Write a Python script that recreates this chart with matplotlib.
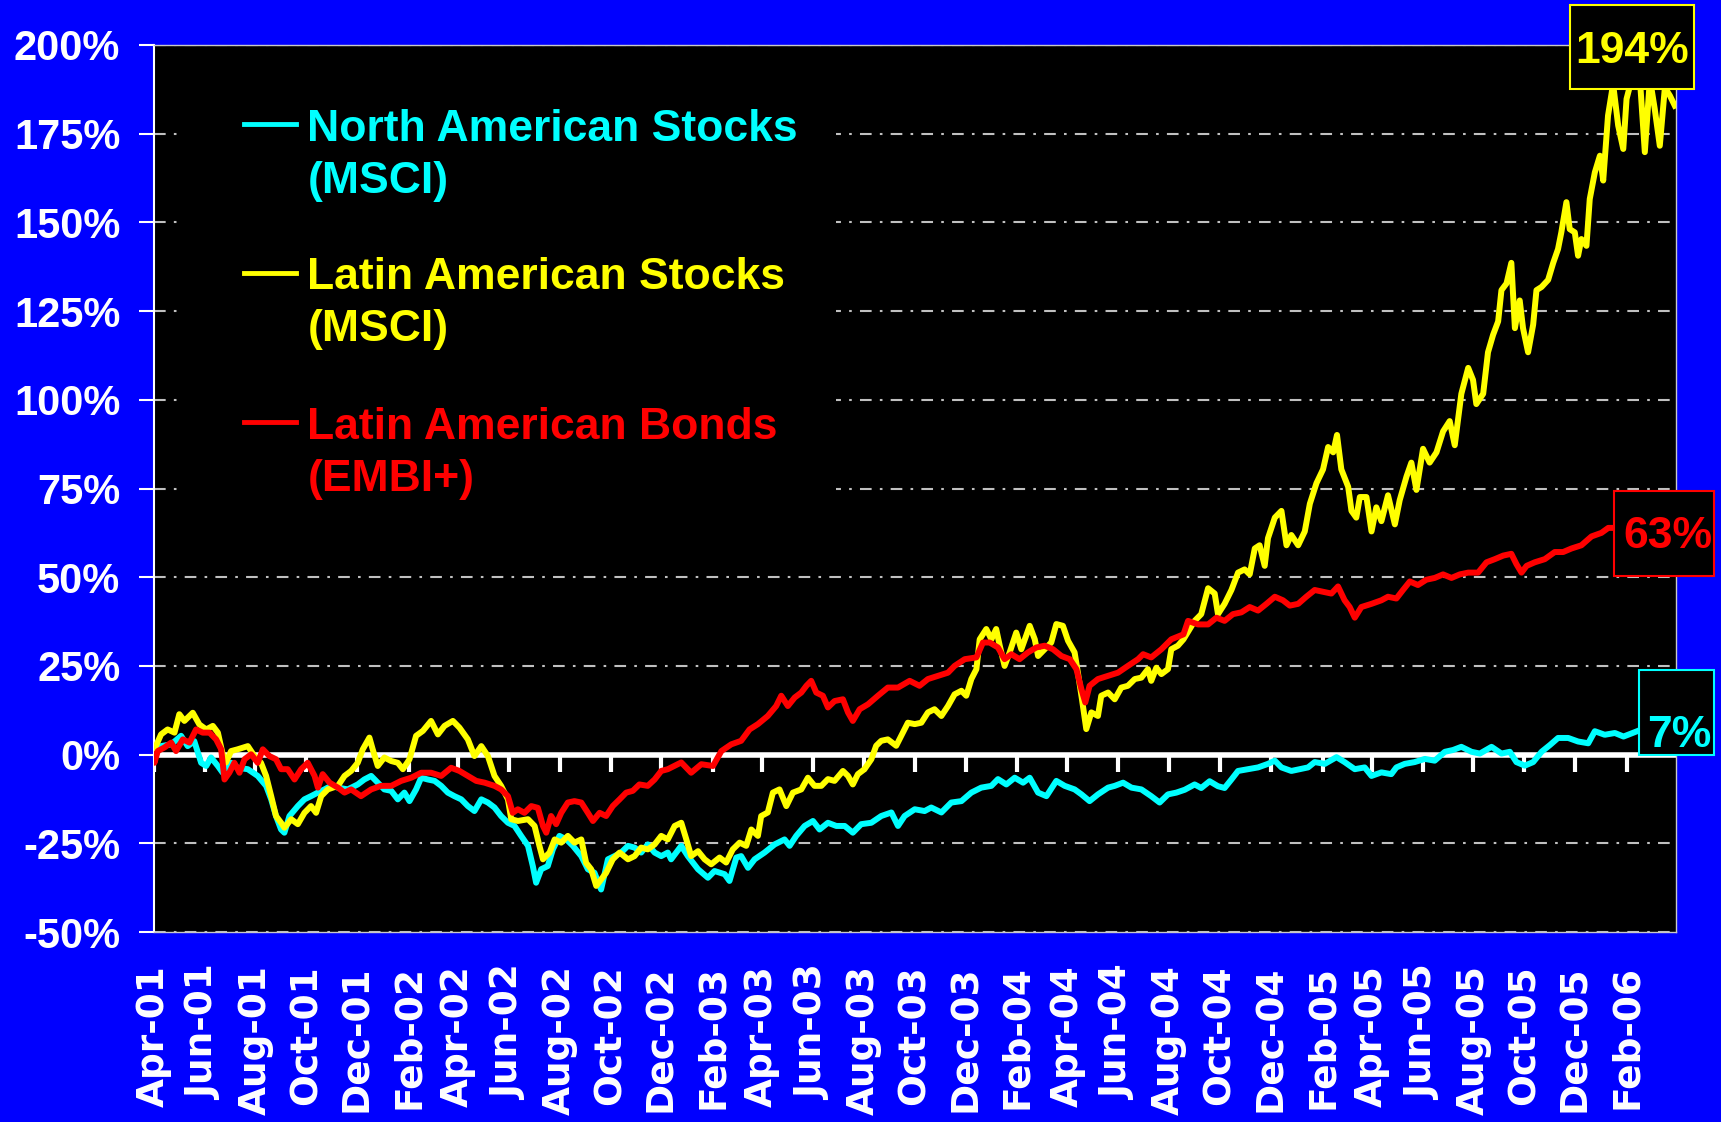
import numpy as np
import pandas as pd
import matplotlib
matplotlib.use('Agg')
import matplotlib.pyplot as plt
from matplotlib.patches import Rectangle
from matplotlib.lines import Line2D

plt.rcParams['font.family'] = ['Liberation Sans', 'DejaVu Sans']
plt.rcParams['font.weight'] = 'bold'
plt.rcParams['lines.scale_dashes'] = False

#%% data: (months after 1-Apr-2001, cumulative return in %)

start = pd.Timestamp('2001-04-01')

na_stocks = [
    (0.00, 0.0), (0.03, 0.5), (0.29, 2.4), (0.69, 2.9), (1.08, 5.3), (1.34, 2.4), (1.60, 3.8),
    (1.87, -2.3), (2.07, -3.2), (2.26, -0.8), (2.53, -3.2), (2.72, -5.1), (3.05, -2.3), (3.31, -3.7),
    (3.71, -4.1), (4.10, -6.0), (4.43, -8.8), (4.63, -12.6), (4.82, -17.3), (5.02, -21.1), (5.15, -22.0),
    (5.35, -17.3), (5.68, -14.5), (5.94, -12.6), (6.20, -11.7), (6.47, -10.7), (6.73, -9.8), (6.99, -8.8),
    (7.26, -9.3), (7.65, -9.8), (8.04, -8.4), (8.30, -7.0), (8.57, -6.0), (8.83, -7.9), (9.09, -9.8),
    (9.36, -10.2), (9.62, -12.6), (9.88, -10.7), (10.08, -13.1), (10.34, -9.8), (10.54, -6.5), (10.80, -7.0),
    (11.07, -7.4), (11.33, -8.8), (11.59, -10.7), (11.85, -11.7), (12.12, -12.6), (12.38, -14.5), (12.64, -15.9),
    (12.91, -12.6), (13.17, -13.5), (13.43, -14.9), (13.69, -17.3), (13.96, -19.2), (14.22, -20.1), (14.48, -22.9),
    (14.75, -25.7), (14.94, -31.4), (15.07, -36.1), (15.27, -32.3), (15.53, -31.4), (15.73, -26.7), (15.99, -22.9),
    (16.26, -23.9), (16.52, -25.7), (16.85, -28.6), (17.11, -32.3), (17.37, -33.3), (17.63, -38.0), (17.90, -29.5),
    (18.16, -28.6), (18.42, -27.6), (18.69, -25.7), (18.95, -26.2), (19.21, -27.6), (19.47, -25.3), (19.74, -27.6),
    (20.00, -28.6), (20.26, -27.6),
    (20.39, -29.5), (20.79, -25.7), (21.05, -28.6), (21.45, -32.3), (21.84, -34.7), (22.10, -32.8), (22.50, -33.7),
    (22.69, -35.6), (22.96, -29.0), (23.15, -28.6), (23.42, -31.9), (23.68, -29.5), (24.07, -27.6), (24.47, -25.3),
    (24.86, -23.9), (25.06, -25.7), (25.32, -22.9), (25.65, -20.1), (25.98, -18.7), (26.24, -21.1), (26.57, -19.2),
    (26.90, -20.1), (27.23, -20.1), (27.55, -22.0), (27.88, -19.6), (28.28, -19.2), (28.67, -17.3), (29.07, -16.3),
    (29.33, -20.1), (29.59, -17.3), (29.99, -15.4), (30.38, -15.9), (30.64, -14.9), (31.04, -16.3), (31.43, -13.5),
    (31.83, -13.1), (32.22, -10.7), (32.61, -9.3), (33.01, -8.8), (33.27, -6.9), (33.60, -8.4), (33.93, -6.5),
    (34.26, -7.9), (34.52, -6.5), (34.85, -10.7), (35.18, -11.7), (35.57, -7.4), (35.90, -8.8), (36.29, -9.8),
    (36.56, -11.2), (36.88, -13.1), (37.21, -11.2), (37.61, -9.3), (37.87, -8.8), (38.20, -7.9), (38.53, -9.3),
    (38.92, -9.8), (39.31, -11.7), (39.64, -13.5), (39.97, -11.2), (40.30, -10.7), (40.63, -9.9),
    (41.02, -8.4), (41.28, -9.4), (41.61, -7.5), (41.94, -8.9), (42.20, -9.4), (42.47, -7.0), (42.73, -4.6),
    (43.12, -4.1), (43.52, -3.6), (43.91, -2.6), (44.18, -1.7), (44.44, -3.6), (44.83, -4.6), (45.16, -4.1),
    (45.49, -3.6), (45.75, -2.1), (46.15, -2.6), (46.61, -0.7), (46.93, -2.1), (47.33, -4.1), (47.72, -3.6),
    (47.99, -6.0), (48.38, -5.0), (48.77, -5.5), (48.97, -3.6), (49.30, -2.6), (49.69, -2.1), (50.09, -1.2),
    (50.48, -1.7), (50.88, 0.8), (51.20, 1.3), (51.53, 2.2), (51.93, 0.8), (52.26, 0.3), (52.72, 2.2),
    (53.11, 0.3), (53.44, 0.8), (53.70, -2.1), (54.03, -3.1), (54.36, -2.1), (54.69, 0.8), (55.02, 2.7),
    (55.34, 4.7), (55.74, 4.7), (56.13, 3.7), (56.53, 3.2), (56.79, 6.6), (57.18, 5.6), (57.58, 6.1),
    (57.92, 5.1), (58.60, 7.0), (59.20, 6.8), (59.94, 7.0),
]

la_stocks = [
    (0.00, 0.0), (0.03, 1.5), (0.29, 5.7), (0.55, 7.1), (0.82, 6.2), (1.01, 11.4), (1.21, 9.5),
    (1.54, 11.8), (1.80, 8.5), (2.07, 7.1), (2.33, 8.1), (2.53, 6.2), (2.72, 0.1), (2.85, -2.2),
    (3.05, 1.0), (3.31, 1.5), (3.71, 2.4), (3.97, -0.4), (4.23, -2.3), (4.43, -6.0), (4.63, -11.7),
    (4.82, -17.3), (5.02, -19.2), (5.15, -20.6), (5.42, -18.2), (5.68, -19.6), (5.94, -16.4), (6.20, -14.5),
    (6.40, -16.4), (6.60, -11.7), (6.86, -9.8), (7.26, -8.8), (7.52, -6.0), (7.78, -4.6), (8.04, -2.3),
    (8.24, 1.5), (8.50, 4.8), (8.63, 1.5), (8.83, -3.2), (9.09, -0.8), (9.36, -1.8), (9.62, -2.3),
    (9.82, -4.1), (10.08, -1.3), (10.34, 5.3), (10.61, 6.7), (10.93, 9.5), (11.20, 5.7), (11.46, 8.1),
    (11.79, 9.5), (12.05, 7.6), (12.38, 4.3), (12.64, -0.4), (12.91, 2.4), (13.17, -0.4), (13.43, -6.0),
    (13.69, -8.8), (13.96, -12.6), (14.09, -18.2), (14.35, -18.7), (14.75, -18.2), (15.01, -20.1), (15.20, -25.7),
    (15.34, -29.5), (15.60, -27.6), (15.80, -23.9), (16.06, -24.8), (16.32, -22.9), (16.58, -24.8), (16.85, -23.9),
    (17.04, -30.5), (17.24, -32.3), (17.44, -37.0), (17.63, -35.2), (17.83, -33.3), (18.09, -29.5), (18.36, -27.6),
    (18.69, -29.5), (18.95, -28.6), (19.21, -26.2), (19.47, -26.7), (19.74, -25.3), (20.00, -22.9), (20.26, -23.9),
    (20.53, -20.1), (20.79, -19.2), (20.99, -23.9), (21.18, -28.6), (21.45, -27.2), (21.71, -29.5), (21.97, -30.9),
    (22.30, -29.0), (22.56, -30.4), (22.82, -26.7), (23.09, -24.8), (23.35, -25.7), (23.55, -21.1), (23.81, -22.9),
    (23.94, -17.3), (24.20, -16.3), (24.40, -10.7), (24.66, -9.8), (24.93, -14.5), (25.19, -10.7), (25.52, -9.8),
    (25.78, -6.5), (26.04, -8.8), (26.31, -8.8), (26.57, -6.9), (26.83, -7.4), (27.16, -4.6), (27.36, -6.0),
    (27.55, -8.4), (27.75, -5.5), (28.01, -4.1), (28.28, -1.3), (28.47, 2.5), (28.67, 3.9), (28.93, 4.3),
    (29.26, 2.5), (29.46, 5.3), (29.72, 9.0), (29.99, 8.6), (30.25, 9.0), (30.51, 11.9), (30.77, 12.8),
    (31.04, 10.9), (31.30, 13.7), (31.56, 17.0), (31.83, 18.0), (32.02, 16.6), (32.22, 21.3), (32.42, 24.1),
    (32.55, 32.5), (32.81, 35.4), (33.01, 32.5), (33.20, 35.4), (33.34, 30.7), (33.53, 25.0), (33.73, 28.8),
    (33.99, 34.4), (34.19, 29.7), (34.52, 36.3), (34.72, 32.5), (34.85, 27.8), (35.11, 29.7), (35.37, 31.6),
    (35.57, 36.8), (35.83, 36.3), (36.03, 32.1), (36.29, 28.8), (36.42, 23.1), (36.58, 15.6), (36.75, 7.2),
    (36.95, 11.9), (37.21, 10.9), (37.34, 16.6), (37.61, 17.5), (37.87, 15.6), (38.13, 18.9), (38.39, 19.4),
    (38.66, 21.3), (38.92, 21.7), (39.18, 24.1), (39.31, 20.8), (39.51, 24.5), (39.71, 22.7), (39.97, 24.1),
    (40.10, 29.7), (40.36, 30.7), (40.58, 32.5),
    (41.02, 37.7), (41.28, 39.6), (41.55, 46.9), (41.81, 45.4), (41.94, 39.6), (42.20, 42.5), (42.47, 46.4),
    (42.73, 51.3), (42.99, 52.2), (43.19, 50.8), (43.39, 58.1), (43.58, 59.0), (43.78, 53.2), (43.91, 61.0),
    (44.18, 66.8), (44.44, 68.7), (44.64, 59.0), (44.83, 61.9), (45.10, 59.0), (45.36, 62.9), (45.56, 70.7),
    (45.82, 76.5), (46.08, 80.4), (46.28, 86.7), (46.48, 85.2), (46.63, 90.1), (46.80, 80.4), (47.07, 75.5),
    (47.20, 68.7), (47.39, 66.8), (47.53, 72.6), (47.79, 72.6), (47.99, 62.9), (48.18, 69.7), (48.38, 65.8),
    (48.64, 73.1), (48.91, 64.9), (49.10, 71.7), (49.37, 78.4), (49.56, 82.3), (49.76, 74.6), (50.02, 86.2),
    (50.28, 82.3), (50.55, 85.2), (50.81, 91.1), (51.07, 94.0), (51.27, 87.2), (51.53, 101.7), (51.80, 109.0),
    (51.99, 105.6), (52.12, 98.8), (52.39, 101.7), (52.58, 113.4), (52.78, 118.3), (52.98, 122.1), (53.11, 130.9),
    (53.31, 132.8), (53.50, 138.6), (53.64, 120.2), (53.83, 128.0), (53.96, 120.2), (54.16, 113.4), (54.36, 121.2),
    (54.49, 130.9), (54.69, 131.8), (54.95, 133.8), (55.15, 138.6), (55.34, 142.5),
    (55.47, 147.2), (55.67, 155.7), (55.80, 148.1), (56.00, 147.2), (56.13, 140.6), (56.26, 145.3), (56.46, 143.4),
    (56.59, 156.6), (56.79, 164.1), (56.99, 168.8), (57.12, 161.8), (57.31, 180.1), (57.51, 189.0), (57.71, 177.3),
    (57.91, 170.7), (58.04, 184.8), (58.23, 190.0), (58.56, 191.0), (58.76, 169.8), (58.96, 190.5), (59.15, 182.0),
    (59.35, 171.6), (59.55, 188.0), (59.75, 185.7), (59.94, 182.9),
]

la_bonds = [
    (0.00, 0.0), (0.03, -2.3), (0.16, 1.0), (0.42, 2.0), (0.69, 3.4), (0.88, 1.0), (1.15, 4.3),
    (1.41, 3.4), (1.67, 7.1), (1.93, 6.2), (2.20, 6.2), (2.46, 4.3), (2.66, 1.5), (2.79, -7.0),
    (2.98, -5.1), (3.18, -2.3), (3.38, -5.1), (3.58, -1.3), (3.84, 0.1), (4.10, -2.3), (4.30, 1.5),
    (4.56, -0.4), (4.82, -1.3), (5.02, -4.1), (5.28, -4.1), (5.55, -7.0), (5.81, -4.1), (6.07, -2.3),
    (6.34, -6.0), (6.47, -9.3), (6.66, -5.5), (6.93, -7.9), (7.26, -9.3), (7.52, -10.7), (7.78, -9.8),
    (8.17, -11.7), (8.57, -9.8), (8.96, -8.8), (9.36, -8.8), (9.75, -7.4), (10.15, -6.5), (10.54, -5.1),
    (10.93, -5.1), (11.33, -6.0), (11.72, -3.7), (12.05, -4.6), (12.38, -6.0), (12.71, -7.4), (13.04, -7.9),
    (13.43, -8.8), (13.69, -9.8), (13.96, -11.7), (14.15, -16.4), (14.35, -15.4), (14.61, -16.4), (14.88, -14.5),
    (15.14, -15.0), (15.34, -20.1), (15.47, -22.0), (15.66, -17.3), (15.86, -19.6), (16.06, -16.4), (16.32, -13.5),
    (16.58, -13.1), (16.85, -13.5), (17.11, -16.4), (17.31, -18.7), (17.57, -16.4), (17.83, -17.3), (18.09, -14.5),
    (18.36, -12.6), (18.62, -10.7), (18.88, -10.2), (19.14, -8.4), (19.47, -8.8), (19.74, -7.0), (20.00, -4.6),
    (20.26, -4.1),
    (20.79, -2.2), (21.18, -5.1), (21.58, -2.7), (22.04, -3.2), (22.37, 1.0), (22.76, 2.9), (23.15, 3.9),
    (23.48, 7.1), (23.81, 8.6), (24.20, 10.9), (24.53, 13.7), (24.73, 16.6), (24.99, 13.7), (25.26, 16.1),
    (25.52, 17.5), (25.72, 19.4), (25.91, 20.8), (26.11, 17.5), (26.37, 16.6), (26.57, 13.3), (26.83, 15.1),
    (27.16, 15.6), (27.36, 11.9), (27.55, 9.5), (27.82, 12.8), (28.15, 14.2), (28.54, 16.6), (28.93, 18.9),
    (29.33, 18.9), (29.79, 20.8), (30.18, 19.4), (30.51, 21.3), (30.91, 22.2), (31.30, 23.1), (31.56, 25.0),
    (31.96, 26.9), (32.42, 27.4), (32.68, 31.6), (32.94, 31.6), (33.27, 30.2), (33.53, 26.9), (33.80, 28.3),
    (34.12, 26.9), (34.45, 28.8), (34.78, 30.2), (35.11, 30.7), (35.44, 29.7), (35.77, 27.8), (36.10, 26.9),
    (36.36, 24.1), (36.56, 18.4), (36.71, 14.7), (36.88, 19.4), (37.21, 21.3), (37.61, 22.2), (38.00, 23.1),
    (38.39, 25.0), (38.79, 26.9), (38.99, 28.3), (39.31, 27.4), (39.71, 29.7), (40.10, 32.5), (40.58, 33.9),
    (40.76, 37.7), (41.15, 36.7), (41.55, 36.7), (41.88, 38.6), (42.20, 37.7), (42.53, 39.6), (42.86, 40.1),
    (43.19, 41.6), (43.52, 40.6), (43.85, 42.5), (44.18, 44.5), (44.50, 43.5), (44.77, 42.0), (45.10, 42.5),
    (45.42, 44.5), (45.75, 46.4), (46.08, 45.9), (46.41, 45.4), (46.67, 47.4), (46.93, 43.5), (47.13, 41.6),
    (47.33, 38.6), (47.59, 41.6), (47.99, 42.5), (48.38, 43.5), (48.64, 44.5), (48.97, 44.0), (49.23, 46.4),
    (49.50, 48.8), (49.82, 47.8), (50.15, 49.3), (50.48, 49.8), (50.81, 50.8), (51.14, 49.8), (51.47, 50.8),
    (51.80, 51.3), (52.19, 51.3), (52.52, 54.2), (52.85, 55.1), (53.18, 56.1), (53.50, 56.6), (53.70, 53.7),
    (53.90, 51.3), (54.10, 53.2), (54.42, 54.2), (54.82, 55.1), (55.21, 57.1), (55.54, 57.1), (55.87, 58.1),
    (56.26, 59.0), (56.66, 61.5), (57.05, 62.5), (57.32, 63.9), (57.58, 63.9), (58.50, 63.5), (59.94, 63.0),
]

legend_lines = [('North American Stocks', '(MSCI)'),
                ('Latin American Stocks', '(MSCI)'),
                ('Latin American Bonds', '(EMBI+)')]
series_colors = ['#00FFFF', '#FFFF00', '#FF0000']
end_labels = ['7%', '194%', '63%']

x_labels = ['Apr-01', 'Jun-01', 'Aug-01', 'Oct-01', 'Dec-01', 'Feb-02', 'Apr-02', 'Jun-02',
            'Aug-02', 'Oct-02', 'Dec-02', 'Feb-03', 'Apr-03', 'Jun-03', 'Aug-03', 'Oct-03',
            'Dec-03', 'Feb-04', 'Apr-04', 'Jun-04', 'Aug-04', 'Oct-04', 'Dec-04', 'Feb-05',
            'Apr-05', 'Jun-05', 'Aug-05', 'Oct-05', 'Dec-05', 'Feb-06']
y_ticks = np.arange(-50, 201, 25)


def to_dates(m):
    return start + pd.to_timedelta(np.asarray(m) * 30.4375, unit='D')


#%% figure

fig = plt.figure(figsize=(17.21, 11.22), dpi=100, facecolor='#0000FF')
ax = fig.add_axes([0.0893, 0.1693, 0.8846, 0.7906])
ax.set_facecolor('black')

for pts, col in zip([na_stocks, la_stocks, la_bonds], series_colors):
    m, v = zip(*pts)
    ax.plot(to_dates(m), v, color=col, lw=4.3, solid_joinstyle='round', zorder=3)

tick_dates = pd.to_datetime(x_labels, format='%b-%y')

# zero line with the hanging ticks
ax.axhline(0, color='white', lw=4, zorder=2)
ax.plot(tick_dates, np.zeros(len(tick_dates)), ls='none', marker=3, ms=12, mew=3,
        color='white', zorder=2)

ax.set_xlim(start, start + pd.DateOffset(years=5))
ax.set_ylim(-50, 200)
ax.set_yticks(y_ticks)
ax.set_yticklabels([f'{t}%' for t in y_ticks])
ax.tick_params(axis='y', colors='white', length=11, width=1.5, pad=13, labelsize=30)

ax.set_xticks(tick_dates)
ax.set_xticklabels(x_labels, rotation=90, family='DejaVu Sans', fontsize=27,
                   fontweight='bold', color='white')
ax.tick_params(axis='x', length=0, pad=24)

ax.set_axisbelow(True)
ax.grid(axis='y', color='#C0C0C0', lw=1.5, linestyle=(0, (8.4, 5.9, 1.9, 5.9)))
ax.grid(axis='x', visible=False)

ax.spines['left'].set_color('white')
ax.spines['left'].set_linewidth(1.5)
for s in ['right', 'top', 'bottom']:
    ax.spines[s].set_color('#C8C8C8')
    ax.spines[s].set_linewidth(1)

# legend block (black background hides the gridlines)
ax.add_patch(Rectangle((0.018, 0.4567), 0.4305, 0.5013, transform=ax.transAxes,
                       facecolor='black', edgecolor='none', zorder=1))
handle_y = [0.9107, 0.7428, 0.5749]
text_y = [(0.8917, 0.8333), (0.7246, 0.6662), (0.5563, 0.4971)]
for (l1, l2), col, hy, (y1, y2) in zip(legend_lines, series_colors, handle_y, text_y):
    ax.add_line(Line2D([0.0591, 0.0937], [hy, hy], transform=ax.transAxes,
                       color=col, lw=3.5, zorder=4))
    ax.text(0.1009, y1, l1, transform=ax.transAxes, color=col, fontsize=32,
            va='baseline', ha='left', zorder=4)
    ax.text(0.1009, y2, l2, transform=ax.transAxes, color=col, fontsize=32,
            va='baseline', ha='left', zorder=4)

# end-value boxes
boxes = [(0.9757, 0.1996, 0.0495, 0.0955, 1.0021, 0.2081),
         (0.9304, 0.9504, 0.0815, 0.0947, 0.9711, 0.9800),
         (0.9595, 0.4019, 0.0657, 0.0955, 0.9943, 0.4324)]
for lab, col, (bx, by, bw, bh, tx, ty) in zip(end_labels, series_colors, boxes):
    ax.add_patch(Rectangle((bx, by), bw, bh, transform=ax.transAxes, facecolor='black',
                           edgecolor=col, lw=1.5, clip_on=False, zorder=5))
    ax.text(tx, ty, lab, transform=ax.transAxes, color=col, fontsize=32,
            ha='center', va='baseline', clip_on=False, zorder=6)

fig.savefig('out.png', dpi=100, facecolor=fig.get_facecolor())
